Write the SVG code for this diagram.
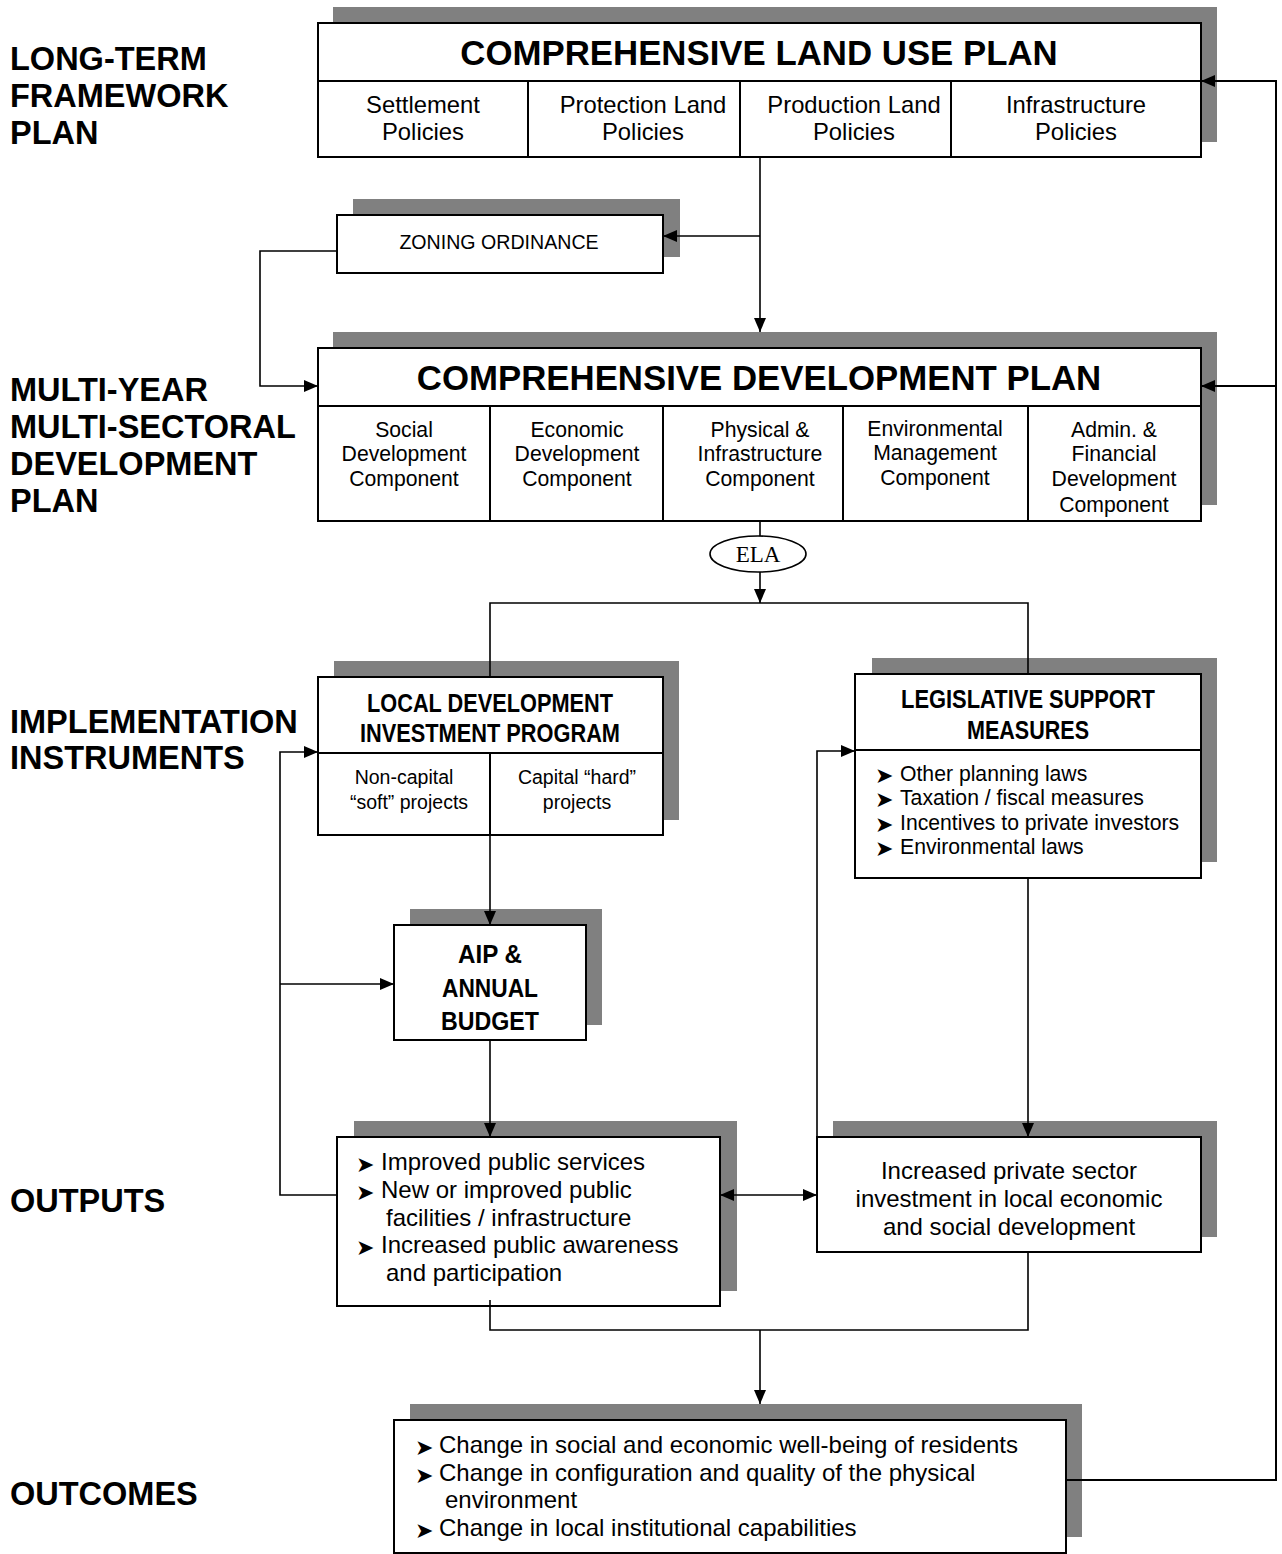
<svg xmlns="http://www.w3.org/2000/svg" width="1282" height="1554" viewBox="0 0 1282 1554">
<style>
text{font-family:"Liberation Sans",Arial,sans-serif;fill:#000}
.lbl{font-size:32.5px;font-weight:bold}
.ttl{font-size:34.8px;font-weight:bold;text-anchor:middle}
.c22{font-size:23.8px;text-anchor:middle}
.c20{font-size:21.2px;text-anchor:middle}
.c19{font-size:19.5px;text-anchor:middle}
.bt{font-size:25px;font-weight:bold;text-anchor:middle}
.b21{font-size:21.2px}
.b23{font-size:24px}
.m23{font-size:24px;text-anchor:middle}
.bul{font-family:"DejaVu Sans",sans-serif;font-size:22px}
.sh{fill:#808080}
.bx{fill:#fff;stroke:#000;stroke-width:2}
.dv{stroke:#000;stroke-width:2;fill:none}
.cn{stroke:#000;stroke-width:1.6;fill:none}
</style>
<defs>
<marker id="ah" markerUnits="userSpaceOnUse" markerWidth="14" markerHeight="12" refX="14" refY="6" orient="auto-start-reverse"><path d="M0,0 L14,6 L0,12 z" fill="#000"/></marker>
<clipPath id="cdpclip"><rect x="318" y="406" width="883" height="114"/></clipPath>
</defs>

<g id="labels">
<text class="lbl" x="10" y="70">LONG-TERM</text>
<text class="lbl" x="10" y="107">FRAMEWORK</text>
<text class="lbl" x="10" y="144">PLAN</text>
<text class="lbl" x="10" y="401">MULTI-YEAR</text>
<text class="lbl" x="10" y="438">MULTI-SECTORAL</text>
<text class="lbl" x="10" y="475">DEVELOPMENT</text>
<text class="lbl" x="10" y="512">PLAN</text>
<text class="lbl" x="10" y="733">IMPLEMENTATION</text>
<text class="lbl" x="10" y="769">INSTRUMENTS</text>
<text class="lbl" x="10" y="1212">OUTPUTS</text>
<text class="lbl" x="10" y="1505">OUTCOMES</text>
</g>

<g id="clup">
<rect class="sh" x="333" y="7" width="884" height="135"/>
<rect class="bx" x="318" y="23" width="883" height="134"/>
<path class="dv" d="M318,81 H1201 M528,81 V157 M740,81 V157 M951,81 V157"/>
<text class="ttl" x="759" y="65">COMPREHENSIVE LAND USE PLAN</text>
<text class="c22" x="423" y="113">Settlement</text>
<text class="c22" x="423" y="140">Policies</text>
<text class="c22" x="643" y="113">Protection Land</text>
<text class="c22" x="643" y="140">Policies</text>
<text class="c22" x="854" y="113">Production Land</text>
<text class="c22" x="854" y="140">Policies</text>
<text class="c22" x="1076" y="113">Infrastructure</text>
<text class="c22" x="1076" y="140">Policies</text>
</g>

<g id="zoning">
<rect class="sh" x="353" y="199" width="327" height="58"/>
<rect class="bx" x="337" y="215" width="326" height="58"/>
<text style="font-size:19.6px;text-anchor:middle" x="499" y="249">ZONING ORDINANCE</text>
</g>

<g id="cdp">
<rect class="sh" x="333" y="332" width="884" height="173"/>
<rect class="bx" x="318" y="348" width="883" height="173"/>
<path class="dv" d="M318,406 H1201 M490,406 V521 M663,406 V521 M843,406 V521 M1028,406 V521"/>
<text class="ttl" x="759" y="390">COMPREHENSIVE DEVELOPMENT PLAN</text>
<text class="c20" x="404" y="437">Social</text>
<text class="c20" x="404" y="461">Development</text>
<text class="c20" x="404" y="486">Component</text>
<text class="c20" x="577" y="437">Economic</text>
<text class="c20" x="577" y="461">Development</text>
<text class="c20" x="577" y="486">Component</text>
<text class="c20" x="760" y="437">Physical &amp;</text>
<text class="c20" x="760" y="461">Infrastructure</text>
<text class="c20" x="760" y="486">Component</text>
<text class="c20" x="935" y="436">Environmental</text>
<text class="c20" x="935" y="460">Management</text>
<text class="c20" x="935" y="485">Component</text>
<g clip-path="url(#cdpclip)">
<text class="c20" x="1114" y="437">Admin. &amp;</text>
<text class="c20" x="1114" y="461">Financial</text>
<text class="c20" x="1114" y="486">Development</text>
<text class="c20" x="1114" y="512">Component</text>
</g>
</g>

<g id="ela">
<ellipse cx="758" cy="554" rx="48" ry="18" fill="#fff" stroke="#000" stroke-width="1.6"/>
<text style="font-family:'Liberation Serif','Times New Roman',serif;font-size:23px;text-anchor:middle" x="758" y="562">ELA</text>
</g>

<g id="ldip">
<rect class="sh" x="334" y="661" width="345" height="159"/>
<rect class="bx" x="318" y="677" width="345" height="158"/>
<path class="dv" d="M318,753 H663 M490,753 V835"/>
<text class="bt" x="490" y="712" textLength="246" lengthAdjust="spacingAndGlyphs">LOCAL DEVELOPMENT</text>
<text class="bt" x="490" y="742" textLength="260" lengthAdjust="spacingAndGlyphs">INVESTMENT PROGRAM</text>
<text class="c19" x="404" y="784">Non-capital</text>
<text class="c19" x="409" y="809">“soft” projects</text>
<text class="c19" x="577" y="784">Capital “hard”</text>
<text class="c19" x="577" y="809">projects</text>
</g>

<g id="legislative">
<rect class="sh" x="872" y="658" width="345" height="204"/>
<rect class="bx" x="855" y="674" width="346" height="204"/>
<path class="dv" d="M855,750 H1201"/>
<text class="bt" x="1028" y="708" textLength="254" lengthAdjust="spacingAndGlyphs">LEGISLATIVE SUPPORT</text>
<text class="bt" x="1028" y="739" textLength="122" lengthAdjust="spacingAndGlyphs">MEASURES</text>
<text class="bul" x="875" y="783">➤</text><text class="b21" x="900" y="781">Other planning laws</text>
<text class="bul" x="875" y="807">➤</text><text class="b21" x="900" y="805">Taxation / fiscal measures</text>
<text class="bul" x="875" y="832">➤</text><text class="b21" x="900" y="830">Incentives to private investors</text>
<text class="bul" x="875" y="856">➤</text><text class="b21" x="900" y="854">Environmental laws</text>
</g>

<g id="aip">
<rect class="sh" x="410" y="909" width="192" height="116"/>
<rect class="bx" x="394" y="925" width="192" height="115"/>
<text style="font-size:26px;font-weight:bold;text-anchor:middle" x="490" y="963" textLength="64" lengthAdjust="spacingAndGlyphs">AIP &amp;</text>
<text style="font-size:26px;font-weight:bold;text-anchor:middle" x="490" y="997" textLength="96" lengthAdjust="spacingAndGlyphs">ANNUAL</text>
<text style="font-size:26px;font-weight:bold;text-anchor:middle" x="490" y="1030" textLength="98" lengthAdjust="spacingAndGlyphs">BUDGET</text>
</g>

<g id="outputs">
<rect class="sh" x="354" y="1121" width="383" height="170"/>
<rect class="bx" x="337" y="1137" width="383" height="169"/>
<text class="bul" x="356" y="1172">➤</text><text class="b23" x="381" y="1170">Improved public services</text>
<text class="bul" x="356" y="1200">➤</text><text class="b23" x="381" y="1198">New or improved public</text>
<text class="b23" x="386" y="1226">facilities / infrastructure</text>
<text class="bul" x="356" y="1255">➤</text><text class="b23" x="381" y="1253">Increased public awareness</text>
<text class="b23" x="386" y="1281">and participation</text>
</g>

<g id="private">
<rect class="sh" x="833" y="1121" width="384" height="116"/>
<rect class="bx" x="817" y="1137" width="384" height="115"/>
<text class="m23" x="1009" y="1179">Increased private sector</text>
<text class="m23" x="1009" y="1207">investment in local economic</text>
<text class="m23" x="1009" y="1235">and social development</text>
</g>

<g id="outcomes">
<rect class="sh" x="410" y="1404" width="672" height="133"/>
<rect class="bx" x="394" y="1420" width="672" height="133"/>
<text class="bul" x="415" y="1455">➤</text><text class="b23" x="439" y="1453">Change in social and economic well-being of residents</text>
<text class="bul" x="415" y="1483">➤</text><text class="b23" x="439" y="1481">Change in configuration and quality of the physical</text>
<text class="b23" x="445" y="1508">environment</text>
<text class="bul" x="415" y="1538">➤</text><text class="b23" x="439" y="1536">Change in local institutional capabilities</text>
</g>

<g id="connectors">
<path class="cn" d="M760,157 V332" marker-end="url(#ah)"/>
<path class="cn" d="M760,236 H663" marker-end="url(#ah)"/>
<path class="cn" d="M337,251 H260 V386 H318" marker-end="url(#ah)"/>
<path class="cn" d="M760,521 V536"/>
<path class="cn" d="M760,572 V603" marker-end="url(#ah)"/>
<path class="cn" d="M490,677 V603 H1028 V674"/>
<path class="cn" d="M490,835 V925" marker-end="url(#ah)"/>
<path class="cn" d="M490,1040 V1137" marker-end="url(#ah)"/>
<path class="cn" d="M720,1195 H817" marker-start="url(#ah)" marker-end="url(#ah)"/>
<path class="cn" d="M1028,878 V1137" marker-end="url(#ah)"/>
<path class="cn" d="M337,1195 H280 V752 H318" marker-end="url(#ah)"/>
<path class="cn" d="M280,984 H394" marker-end="url(#ah)"/>
<path class="cn" d="M817,1137 V751 H855" marker-end="url(#ah)"/>
<path class="cn" d="M490,1300 V1330 H1028 V1252"/>
<path class="cn" d="M760,1330 V1404" marker-end="url(#ah)"/>
<path class="cn" style="stroke-width:2" d="M1066,1480 H1276 V81 H1201" marker-end="url(#ah)"/>
<path class="cn" style="stroke-width:2" d="M1276,386 H1201" marker-end="url(#ah)"/>
</g>
</svg>
